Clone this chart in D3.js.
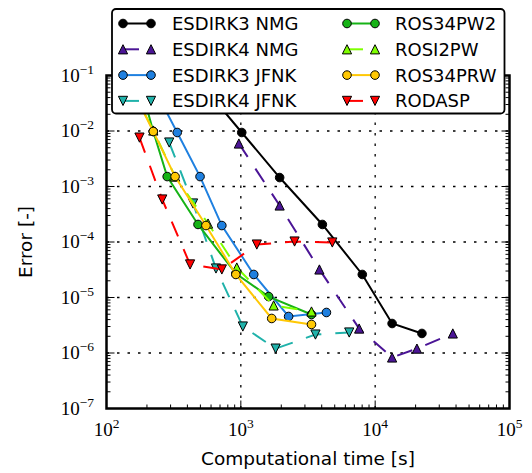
<!DOCTYPE html>
<html><head><meta charset="utf-8">
<script src="https://cdn.jsdelivr.net/npm/d3@7"></script>
<style>body{margin:0;background:#fff}</style>
</head><body>
<svg id="chart" width="532" height="473"></svg>
<script>
// ---- data ----
const seriesNames = ["ESDIRK3 NMG","ESDIRK4 NMG","ESDIRK3 JFNK","ESDIRK4 JFNK","ROS34PW2","ROSI2PW","ROS34PRW","RODASP"];
const esdirk3NmgTime = [532, 1016, 1945, 4045, 8020, 13370, 22290];
const esdirk3NmgErr  = [0.061, 9.4e-3, 1.45e-3, 2.07e-4, 2.6e-5, 3.4e-6, 2.25e-6];
const esdirk4NmgTime = [967, 1945, 3845, 7600, 13370, 20460, 37840];
const esdirk4NmgErr  = [5.95e-3, 4.55e-4, 3.2e-5, 2.76e-6, 8.3e-7, 1.2e-6, 2.25e-6];
const esdirk3JfnkTime = [227, 336, 497, 722, 1248, 2268, 4337];
const esdirk3JfnkErr  = [0.058, 9.4e-3, 1.51e-3, 1.98e-4, 2.6e-5, 4.55e-6, 5.37e-6];
const esdirk4JfnkTime = [293, 441, 653, 1035, 1816, 3594, 6410];
const esdirk4JfnkErr  = [6.2e-3, 4.94e-4, 3.33e-5, 3.0e-6, 1.2e-6, 2.15e-6, 2.34e-6];
const ros34pw2Time = [181, 223, 283, 480, 918, 1611, 3357];
const ros34pw2Err  = [0.061, 9.8e-3, 1.51e-3, 2.07e-4, 2.7e-5, 1.04e-5, 4.94e-6];
const rosi2pwTime = [153, 223, 324, 570, 933, 1755, 3357];
const rosi2pwErr  = [0.061, 1.02e-2, 1.51e-3, 2.15e-4, 3.47e-5, 7.2e-6, 5.6e-6];
const ros34prwTime = [153, 223, 324, 550, 918, 1698, 3357];
const ros34prwErr  = [0.061, 9.8e-3, 1.51e-3, 1.98e-4, 2.6e-5, 4.19e-6, 3.27e-6];
const rodaspTime = [176, 260, 419, 722, 1315, 2512, 4797];
const rodaspErr  = [7.6e-3, 5.83e-4, 3.94e-5, 3.2e-5, 9.0e-5, 1.02e-4, 9.8e-5];
const xTickValues = [1e2, 1e3, 1e4, 1e5];
const xTickExponents = ["2","3","4","5"];
const yTickValues = [1e-7,1e-6,1e-5,1e-4,1e-3,1e-2,1e-1];
const yTickExponents = ["\u22127","\u22126","\u22125","\u22124","\u22123","\u22122","\u22121"];
const xLabel = "Computational time [s]";
const yLabel = "Error [-]";

// ---- styles ----
const styles = [
  {color:"#000000", marker:"circle", dash:null},
  {color:"#4b1596", marker:"up", dash:"16,14"},
  {color:"#1f80e0", marker:"circle", dash:null},
  {color:"#20b2aa", marker:"down", dash:"16,14"},
  {color:"#16b316", marker:"circle", dash:null},
  {color:"#7fff00", marker:"up", dash:"16,14"},
  {color:"#ffc805", marker:"circle", dash:null},
  {color:"#ff0000", marker:"down", dash:"16,14"}
];
const times = [esdirk3NmgTime, esdirk4NmgTime, esdirk3JfnkTime, esdirk4JfnkTime, ros34pw2Time, rosi2pwTime, ros34prwTime, rodaspTime];
const errs  = [esdirk3NmgErr, esdirk4NmgErr, esdirk3JfnkErr, esdirk4JfnkErr, ros34pw2Err, rosi2pwErr, ros34prwErr, rodaspErr];
const series = seriesNames.map((n,i)=>({name:n, ...styles[i], pts: times[i].map((t,j)=>({t, e: errs[i][j]}))}));

const L=106.5, R=509.5, T=75.5, B=408.5;
const x = d3.scaleLog().domain([1e2,1e5]).range([L,R]);
const y = d3.scaleLog().domain([1e-7,1e-1]).range([B,T]);
const svg = d3.select("#chart");

svg.append("defs").append("clipPath").attr("id","clip")
  .append("rect").attr("x",L).attr("y",T).attr("width",R-L).attr("height",B-T);

// grid
const grid = svg.append("g").attr("stroke","#000").attr("stroke-width",1.3).attr("stroke-dasharray","2.5,8");
xTickValues.slice(1,-1).forEach(v=>grid.append("line").attr("x1",x(v)).attr("x2",x(v)).attr("y1",B).attr("y2",T));
yTickValues.slice(1,-1).forEach(v=>grid.append("line").attr("y1",y(v)).attr("y2",y(v)).attr("x1",L).attr("x2",R));

function markerPath(type, s){
  if(type==="circle") return d3.symbol(d3.symbolCircle, Math.PI*s*s)();
  const h=4.6;
  if(type==="up") return `M0,${-h}L${h},${h}L${-h},${h}Z`;
  return `M0,${h}L${h},${-h}L${-h},${-h}Z`;
}

const plot = svg.append("g").attr("clip-path","url(#clip)");
const line = d3.line().x(d=>x(d.t)).y(d=>y(d.e));
series.forEach(s=>{
  const g = plot.append("g");
  g.append("path").attr("d", line(s.pts)).attr("fill","none").attr("stroke",s.color)
    .attr("stroke-width",2).attr("stroke-dasharray", s.dash);
  g.selectAll("path.m").data(s.pts).join("path").attr("class","m")
    .attr("transform",d=>`translate(${x(d.t)},${y(d.e)})`)
    .attr("d", markerPath(s.marker,4.3)).attr("fill",s.color).attr("stroke","#000").attr("stroke-width",1);
});

// ticks (inside, all four sides)
const tk = svg.append("g").attr("stroke","#000").attr("stroke-width",1);
const xMinor = x.ticks().filter(v=>!xTickValues.includes(v));
const yMinor = y.ticks().filter(v=>!yTickValues.some(m=>Math.abs(m-v)/v<1e-6));
function xt(v,len){ tk.append("line").attr("x1",x(v)).attr("x2",x(v)).attr("y1",B).attr("y2",B-len);
  tk.append("line").attr("x1",x(v)).attr("x2",x(v)).attr("y1",T).attr("y2",T+len); }
function yt(v,len){ tk.append("line").attr("y1",y(v)).attr("y2",y(v)).attr("x1",L).attr("x2",L+len);
  tk.append("line").attr("y1",y(v)).attr("y2",y(v)).attr("x1",R).attr("x2",R-len); }
xMinor.forEach(v=>xt(v,4)); xTickValues.forEach(v=>xt(v,8));
yMinor.forEach(v=>yt(v,4)); yTickValues.forEach(v=>yt(v,8));

// frame
svg.append("rect").attr("x",L).attr("y",T).attr("width",R-L).attr("height",B-T)
  .attr("fill","none").attr("stroke","#000").attr("stroke-width",2.5);

// tick labels
const serif = "'Liberation Serif', 'DejaVu Serif', serif";
xTickValues.forEach((v,i)=>{
  const t = svg.append("text").attr("x",x(v)).attr("y",B+27).attr("text-anchor","middle")
    .attr("font-family",serif).attr("font-size",19).attr("fill","#000");
  t.append("tspan").text("10");
  t.append("tspan").attr("dy",-8).attr("font-size",13.5).text(xTickExponents[i]);
});
yTickValues.forEach((v,i)=>{
  const t = svg.append("text").attr("x",94).attr("y",y(v)+6).attr("text-anchor","end")
    .attr("font-family",serif).attr("font-size",19).attr("fill","#000");
  t.append("tspan").text("10");
  t.append("tspan").attr("dy",-8).attr("font-size",13.5).text(yTickExponents[i]);
});

const sans = "'DejaVu Sans', sans-serif";
svg.append("text").attr("x",(L+R)/2).attr("y",465).attr("text-anchor","middle")
  .attr("font-family",sans).attr("font-size",18.5).text(xLabel);
svg.append("text").attr("transform",`translate(32,${(T+B)/2}) rotate(-90)`).attr("text-anchor","middle")
  .attr("font-family",sans).attr("font-size",18.5).text(yLabel);

// legend
const lg = svg.append("g");
lg.append("rect").attr("x",112).attr("y",9).attr("width",392.5).attr("height",104.5).attr("rx",4)
  .attr("fill","#fff").attr("stroke","#000").attr("stroke-width",1.8);
series.forEach((s,i)=>{
  const col = Math.floor(i/4), row = i%4;
  const x0 = col===0 ? 123 : 347, yy = 23.5 + row*25.8;
  lg.append("line").attr("x1",x0).attr("x2",x0+28).attr("y1",yy).attr("y2",yy)
    .attr("stroke",s.color).attr("stroke-width",2).attr("stroke-dasharray",s.dash);
  [x0, x0+28].forEach(mx=>lg.append("path").attr("transform",`translate(${mx},${yy})`)
    .attr("d",markerPath(s.marker,4.3)).attr("fill",s.color).attr("stroke","#000").attr("stroke-width",1));
  lg.append("text").attr("x", col===0 ? 172 : 395).attr("y",yy+6.5)
    .attr("font-family",sans).attr("font-size",18).text(s.name);
});
</script>
</body></html>
